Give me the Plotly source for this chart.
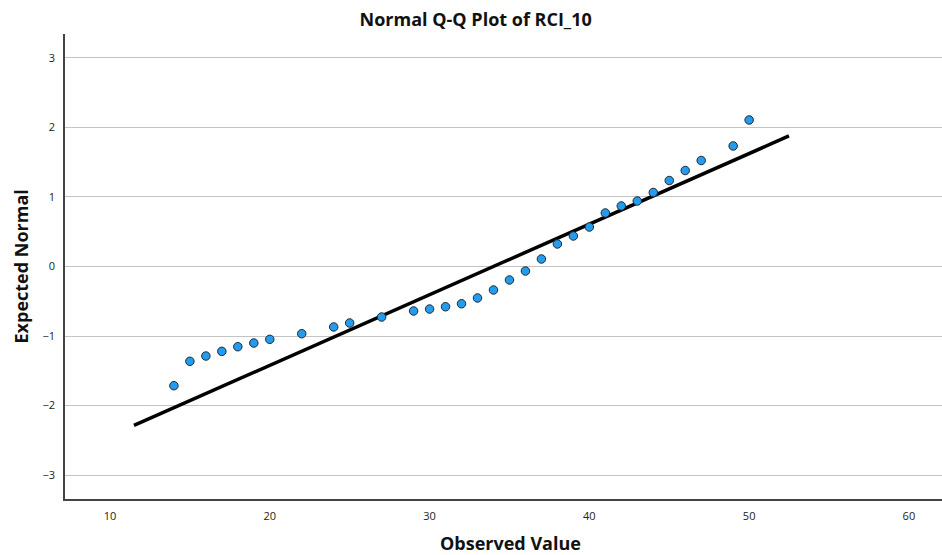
import plotly.graph_objects as go

# Observed values and their expected normal scores
observed = [14, 15, 16, 17, 18, 19, 20, 22, 24, 25, 27, 29, 30, 31, 32, 33, 34, 35,
            36, 37, 38, 39, 40, 41, 42, 43, 44, 45, 46, 47, 49, 50]
expected = [-1.715, -1.364, -1.288, -1.221, -1.154, -1.101, -1.048, -0.967, -0.870,
            -0.813, -0.727, -0.640, -0.612, -0.579, -0.536, -0.453, -0.338, -0.194,
            -0.065, 0.108, 0.324, 0.439, 0.568, 0.770, 0.871, 0.942, 1.065, 1.237,
            1.381, 1.525, 1.734, 2.108]

# Reference line endpoints
line_x = [11.5, 52.49]
line_y = [-2.285, 1.878]

x_ticks = [10, 20, 30, 40, 50, 60]
y_ticks = [-3, -2, -1, 0, 1, 2, 3]

fig = go.Figure()
fig.add_trace(go.Scatter(x=line_x, y=line_y, mode="lines",
                         line=dict(color="black", width=3.5), hoverinfo="skip"))
fig.add_trace(go.Scatter(x=observed, y=expected, mode="markers",
                         marker=dict(size=8.5, color="#239cf0",
                                     line=dict(color="#1e2a33", width=1))))

tick_font = dict(family="Open Sans, sans-serif", size=11, color="#222222")
title_font = dict(family="Open Sans, sans-serif", size=18, color="#111111", weight="bold")

fig.update_layout(
    width=942, height=555,
    margin=dict(l=65, r=0, t=34, b=56),
    paper_bgcolor="white", plot_bgcolor="white",
    showlegend=False,
    title=dict(text="Normal Q-Q Plot of RCI_10", x=0.505, xref="container",
               y=1 - 20 / 555, yref="container", xanchor="center", yanchor="middle",
               font=title_font),
    xaxis=dict(range=[7.184, 62.07], tickvals=x_ticks, showgrid=False, zeroline=False,
               showline=True, linecolor="#444444", linewidth=1.5, ticks="",
               tickfont=tick_font, ticklabelstandoff=6),
    yaxis=dict(range=[-3.345, 3.345], tickvals=y_ticks, showgrid=True,
               gridcolor="#c4c4c4", gridwidth=1, zeroline=False,
               showline=True, linecolor="#444444", linewidth=1.5, ticks="",
               tickfont=tick_font, ticklabelstandoff=6,
               tickformat="d"),
    annotations=[
        dict(text="Observed Value", xref="paper", yref="paper",
             x=(510 - 65) / 877, y=-(543 - 499) / 465, xanchor="center",
             yanchor="middle", showarrow=False, font=title_font),
        dict(text="Expected Normal", xref="paper", yref="paper",
             x=-(65 - 20) / 877, y=0.5, xanchor="center", yanchor="middle",
             textangle=-90, showarrow=False, font=title_font),
    ],
)

fig.write_html("out.html")
